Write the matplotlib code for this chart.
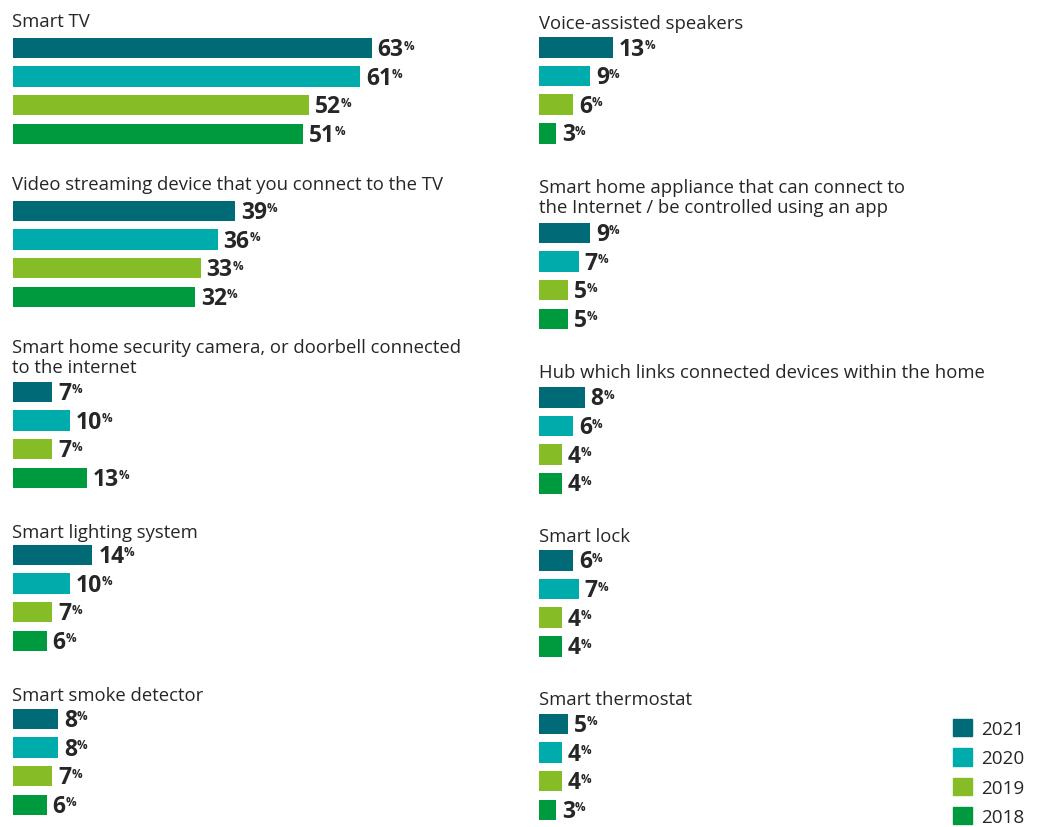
import matplotlib.pyplot as plt
from matplotlib.patches import Patch

plt.rcParams['font.family'] = ['Open Sans', 'DejaVu Sans']

W, H = 1037, 828
PX_PER_PCT = 5.7
PT = 0.72  # points per pixel at dpi 100
TEXT = '#262626'

years = ['2021', '2020', '2019', '2018']
colors = ['#016a77', '#00abab', '#86bc25', '#009a3e']

left_titles = [
    ['Smart TV'],
    ['Video streaming device that you connect to the TV'],
    ['Smart home security camera, or doorbell connected', 'to the internet'],
    ['Smart lighting system'],
    ['Smart smoke detector'],
]
left_values = [
    [63, 61, 52, 51],
    [39, 36, 33, 32],
    [7, 10, 7, 13],
    [14, 10, 7, 6],
    [8, 8, 7, 6],
]

right_titles = [
    ['Voice-assisted speakers'],
    ['Smart home appliance that can connect to', 'the Internet / be controlled using an app'],
    ['Hub which links connected devices within the home'],
    ['Smart lock'],
    ['Smart thermostat'],
]
right_values = [
    [13, 9, 6, 3],
    [9, 7, 5, 5],
    [8, 6, 4, 4],
    [6, 7, 4, 4],
    [5, 4, 4, 3],
]

# vertical layout in pixels from the top: title baseline, first bar centre
left_title_y = [27, 190.5, 353, 537.7, 700.7]
left_bar_y = [49, 212, 393, 556, 720]
right_title_y = [29.3, 192.7, 378, 541.7, 705]
right_bar_y = [48.5, 234, 398.5, 561.5, 725]
BAR_STEP = 28.6
BAR_H = 20.5
LINE_STEP = 20


def draw_column(ax, titles, values, title_y, bar_y):
    for lines, vals, ty, by in zip(titles, values, title_y, bar_y):
        for k, line in enumerate(lines):
            ax.text(0, ty + k * LINE_STEP, line, fontsize=13.3, color=TEXT,
                    ha='left', va='baseline')
        ys = [by + i * BAR_STEP for i in range(len(vals))]
        ax.barh(ys, vals, height=BAR_H, color=colors, left=0)
        for v, y in zip(vals, ys):
            num = ax.annotate(str(v), xy=(v, y), xytext=(4.3, -7 * PT),
                              textcoords='offset points', ha='left', va='baseline',
                              fontsize=16.5, fontweight='bold', color=TEXT)
            ax.annotate('%', xy=(1, y), xycoords=(num, 'data'),
                        xytext=(-0.2, -0.5 * PT), textcoords='offset points',
                        ha='left', va='baseline', fontsize=8.5,
                        fontweight='bold', color=TEXT)


fig = plt.figure(figsize=(W / 100, H / 100), dpi=100)

left_x0, left_w = 12.5, 520
right_x0, right_w = 539, W - 539

ax_l = fig.add_axes([left_x0 / W, 0, left_w / W, 1])
ax_r = fig.add_axes([right_x0 / W, 0, right_w / W, 1])
for ax, w in [(ax_l, left_w), (ax_r, right_w)]:
    ax.set_xlim(0, w / PX_PER_PCT)
    ax.set_ylim(H, 0)
    ax.set_axis_off()

draw_column(ax_l, left_titles, left_values, left_title_y, left_bar_y)
draw_column(ax_r, right_titles, right_values, right_title_y, right_bar_y)

handles = [Patch(color=c) for c in colors]
fig.legend(handles, years, loc='upper left', bbox_to_anchor=(953 / W, 1 - 720 / H),
           frameon=False, fontsize=13.6, handlelength=1.02, handleheight=1.02,
           handletextpad=0.45, labelspacing=0.55, borderpad=0, borderaxespad=0,
           labelcolor=TEXT)

fig.savefig('out.png', dpi=100)
